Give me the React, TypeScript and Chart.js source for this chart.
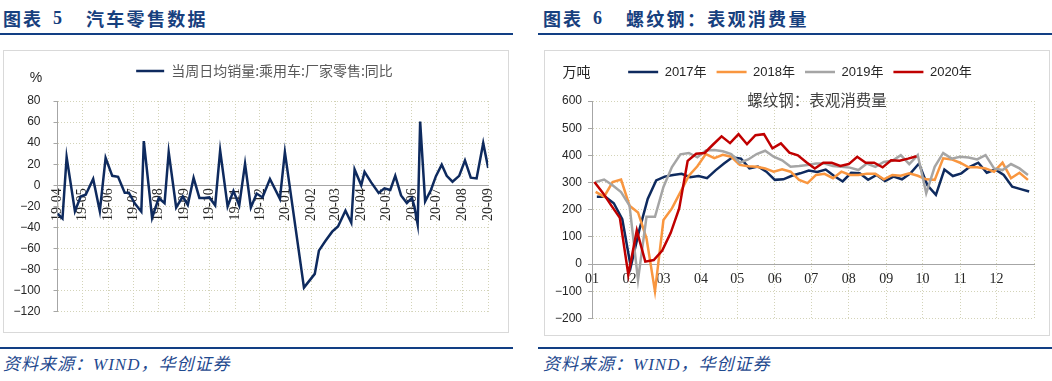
import React, { useEffect, useRef } from 'react';
import { Chart, registerables } from 'chart.js';

Chart.register(...registerables);

// ---------- Figure 5: car retail (weekly YoY, %) ----------
const carTickLabels = ['19-04', '19-05', '19-06', '19-07', '19-08', '19-09', '19-10', '19-11', '19-12', '20-01', '20-02', '20-03', '20-04', '20-05', '20-06', '20-07', '20-08', '20-09'];
const carSeriesName = '当周日均销量:乘用车:厂家零售:同比';
const carDates = [
  '2019-04-01', '2019-04-07', '2019-04-12', '2019-04-22', '2019-04-29',
  '2019-05-05', '2019-05-14', '2019-05-22', '2019-05-29',
  '2019-06-06', '2019-06-13', '2019-06-21', '2019-06-26',
  '2019-07-03', '2019-07-11', '2019-07-14', '2019-07-24',
  '2019-08-01', '2019-08-08', '2019-08-13', '2019-08-22', '2019-08-30',
  '2019-09-05', '2019-09-12', '2019-09-19', '2019-09-25',
  '2019-10-01', '2019-10-08', '2019-10-14', '2019-10-23', '2019-10-30',
  '2019-11-06', '2019-11-13', '2019-11-20', '2019-11-27',
  '2019-12-04', '2019-12-13', '2019-12-25', '2019-12-31',
  '2020-01-23',
  '2020-02-05', '2020-02-10', '2020-02-18', '2020-02-26',
  '2020-03-04', '2020-03-13', '2020-03-20', '2020-03-24', '2020-04-01',
  '2020-04-05', '2020-04-13', '2020-04-22', '2020-04-29',
  '2020-05-06', '2020-05-12', '2020-05-19', '2020-05-26', '2020-06-01',
  '2020-06-04', '2020-06-08', '2020-06-11', '2020-06-17', '2020-06-24', '2020-06-30',
  '2020-07-07', '2020-07-13', '2020-07-20', '2020-07-28',
  '2020-08-04', '2020-08-11', '2020-08-18', '2020-08-26', '2020-09-01',
];
const carYoY = [
  -27, -31.5, 26.8, -24.6, -10.6,
  -9, 6, -24.6, 26,
  9, 8, -7, -7,
  -17, -25, 42, -31,
  -12, -17, 31.5, -21, -10.6,
  -18.5, 7, -12, -12,
  -11.5, -19, 33, -20, -5.3,
  -19, 20.5, -21, -7.8,
  -11.5, 6, -12.8, 31.5,
  -97,
  -84, -62, -52.6, -44,
  -39, -24, -35.5, 15, 0,
  12.8, 2.8, -7.2, -2.8,
  -4.4, 9, -9.6, -16.8, -12,
  -20, -37, 60.5, -15.2, -4.4, 8.7,
  19.6, 9, 3.4, 9,
  23.6, 7.2, 6.5, 40, 16.5,
];

// ---------- Figure 6: rebar apparent consumption (10k t, weekly) ----------
const steelMonthLabels = ['01', '02', '03', '04', '05', '06', '07', '08', '09', '10', '11', '12'];
const steelYears = ['2017年', '2018年', '2019年', '2020年'];
const steelFirstWeek = ['2017-01-05', '2018-01-04', '2019-01-04', '2020-01-03'];
const steel2017 = [248, 248, 224, 165, -10, 124, 240, 308, 322, 328, 332, 320, 324, 316, 345, 370, 393, 388, 352, 359, 340, 310, 312, 325, 334, 344, 339, 348, 324, 304, 336, 334, 310, 328, 306, 322, 312, 334, 370, 290, 255, 348, 324, 334, 358, 373, 336, 348, 328, 285, 276, 267];
const steel2018 = [266, 248, 302, 311, 215, 190, 95, -100, 162, 205, 265, 325, 360, 405, 390, 402, 395, 365, 360, 358, 352, 340, 349, 340, 310, 298, 328, 332, 316, 340, 328, 328, 332, 332, 312, 328, 325, 334, 325, 312, 310, 389, 385, 373, 356, 356, 352, 340, 373, 316, 336, 310];
const steel2019 = [302, 311, 290, 265, 215, -58, 174, 174, 284, 357, 404, 409, 393, 418, 420, 415, 405, 373, 385, 405, 417, 395, 382, 358, 361, 365, 370, 370, 361, 358, 355, 346, 370, 358, 376, 380, 401, 368, 401, 261, 358, 409, 388, 395, 392, 385, 401, 352, 346, 368, 352, 328];
const steel2020 = [302, 262, 215, 170, -39, 124, 9, 15, 50, 115, 205, 380, 406, 409, 440, 470, 445, 478, 441, 474, 478, 426, 444, 410, 400, 375, 352, 373, 373, 361, 368, 395, 373, 373, 356, 382, 380, 388, 397];
const steelChartTitle = '螺纹钢：表观消费量';
const steelUnit = '万吨';

// ---------- helpers ----------
const DAY = 86400000;
const dayNum = (s: string) => {
  const [y, m, d] = s.split('-').map(Number);
  return Date.UTC(y, m - 1, d) / DAY;
};
const dayOfYear = (s: string) => dayNum(s) - Date.UTC(Number(s.slice(0, 4)), 0, 1) / DAY;
const fmtTick = (v: number) => (v < 0 ? '\u2212' + Math.abs(v) : String(v));

const GRID = '#D3D3B8';
const AXIS = '#A6A6A6';
const NAVY = '#0E2A5E';
const STEEL_COLORS = ['#0E2A5E', '#F9963F', '#A5A5A5', '#C00000'];
const SANS = '"Liberation Sans", Arial, sans-serif';
const SERIF = '"Liberation Serif", "Times New Roman", serif';
const CJK = '"Noto Sans CJK SC", sans-serif';

const extraText = {
  id: 'extraText',
  afterLayout(chart: any, _args: any, opts: any) {
    const shift = opts.legendShift || 0;
    if (chart.legend && shift) {
      chart.legend.left += shift;
      chart.legend.right += shift;
    }
  },
  afterDraw(chart: any, _args: any, opts: any) {
    const { ctx, chartArea } = chart;
    (opts.items || []).forEach((t: any) => {
      ctx.save();
      ctx.font = t.font;
      ctx.fillStyle = t.color;
      ctx.textAlign = 'center';
      ctx.textBaseline = 'middle';
      ctx.fillText(t.text, chartArea.left + t.dx, chartArea.top + t.dy);
      ctx.restore();
    });
  },
};

const legendLabels = (fontFamily: string, color: string, w: number, size: number) => ({
  usePointStyle: true,
  pointStyle: 'line',
  pointStyleWidth: w,
  padding: 10,
  color,
  font: { family: fontFamily, size },
  sort: (a: any, b: any) => a.datasetIndex - b.datasetIndex,
});

export default function App() {
  const leftRef = useRef<HTMLCanvasElement>(null);
  const rightRef = useRef<HTMLCanvasElement>(null);

  useEffect(() => {
    const carStart = dayNum('2019-04-01');
    const carTickDays = carTickLabels.map((l) => {
      const [yy, mm] = l.split('-').map(Number);
      return Date.UTC(2000 + yy, mm - 1, 1) / DAY - carStart;
    });
    const carPoints = carDates.map((d, i) => ({ x: dayNum(d) - carStart, y: carYoY[i] }));

    const left = new Chart(leftRef.current as HTMLCanvasElement, {
      type: 'line',
      data: {
        datasets: [
          {
            label: carSeriesName,
            data: carPoints,
            borderColor: NAVY,
            backgroundColor: NAVY,
            borderWidth: 2.5,
            pointRadius: 0,
            tension: 0,
          },
        ],
      },
      plugins: [extraText],
      options: {
        animation: false,
        responsive: false,
        maintainAspectRatio: false,
        layout: { padding: { left: 0, right: 18, top: 3, bottom: 16 } },
        plugins: {
          legend: { position: 'top', labels: legendLabels(CJK, '#595959', 28, 14) },
          subtitle: { display: true, text: ' ', weight: 500, font: { size: 1, lineHeight: 1 }, padding: { top: 0, bottom: 12 } },
          tooltip: { enabled: false },
          extraText: { legendShift: 17.5, items: [{ text: '%', dx: -21.5, dy: -23, font: `14px ${SANS}`, color: '#262626' }] },
        } as any,
        scales: {
          x: {
            type: 'linear',
            position: { y: 0 } as any,
            min: carTickDays[0],
            max: carTickDays[carTickDays.length - 1],
            afterBuildTicks: (scale: any) => {
              scale.ticks = carTickDays.map((v) => ({ value: v }));
            },
            ticks: {
              autoSkip: false,
              minRotation: 90,
              maxRotation: 90,
              padding: 3,
              color: '#262626',
              font: { family: SERIF, size: 14 },
              callback: (_v: any, i: number) => carTickLabels[i],
            },
            grid: { color: GRID, lineWidth: 1, drawTicks: false },
            border: { display: true, color: AXIS, width: 1, dash: [1, 2] },
          },
          y: {
            type: 'linear',
            min: -120,
            max: 80,
            afterFit: (scale: any) => {
              scale.width = 53.5;
            },
            ticks: {
              stepSize: 20,
              padding: 13,
              color: '#262626',
              font: { family: SANS, size: 12 },
              callback: (v: any) => fmtTick(Number(v)),
            },
            grid: { color: GRID, lineWidth: 1, drawTicks: true, tickLength: 4, tickColor: AXIS, tickBorderDash: [] },
            border: { display: true, color: AXIS, width: 1, dash: [1, 2] },
          },
        },
      } as any,
    });

    const monthStarts = steelMonthLabels.map((_m, i) => (Date.UTC(2017, i, 1) - Date.UTC(2017, 0, 1)) / DAY);
    const yearEnd = (Date.UTC(2018, 0, 1) - Date.UTC(2017, 0, 1)) / DAY;
    const steelValues = [steel2017, steel2018, steel2019, steel2020];
    const steelDatasets = steelYears.map((label, k) => {
      const first = dayOfYear(steelFirstWeek[k]);
      return {
        label,
        data: steelValues[k].map((v, i) => ({ x: first + 7 * i, y: v })),
        borderColor: STEEL_COLORS[k],
        backgroundColor: STEEL_COLORS[k],
        borderWidth: 2.5,
        pointRadius: 0,
        tension: 0,
        order: steelYears.length - k,
      };
    });

    const right = new Chart(rightRef.current as HTMLCanvasElement, {
      type: 'line',
      data: { datasets: steelDatasets },
      plugins: [extraText],
      options: {
        animation: false,
        responsive: false,
        maintainAspectRatio: false,
        layout: { padding: { left: 0, right: 15, top: 4.5, bottom: 16.5 } },
        plugins: {
          legend: { position: 'top', labels: legendLabels(`"Liberation Sans", ${CJK}`, '#262626', 30, 13) },
          subtitle: { display: true, text: ' ', weight: 500, font: { size: 1, lineHeight: 1 }, padding: { top: 0, bottom: 11.5 } },
          tooltip: { enabled: false },
          extraText: {
            legendShift: 10.5,
            items: [
              { text: steelUnit, dx: -15.5, dy: -29, font: `14px ${CJK}`, color: '#262626' },
              { text: steelChartTitle, dx: 225, dy: -0.5, font: `15.5px ${CJK}`, color: '#404040' },
            ],
          },
        } as any,
        scales: {
          x: {
            type: 'linear',
            position: { y: 0 } as any,
            min: 0,
            max: yearEnd,
            afterBuildTicks: (scale: any) => {
              scale.ticks = [...monthStarts, yearEnd].map((v) => ({ value: v }));
            },
            ticks: {
              autoSkip: false,
              maxRotation: 0,
              minRotation: 0,
              padding: 7,
              color: '#262626',
              font: { family: SERIF, size: 14 },
              callback: (_v: any, i: number) => steelMonthLabels[i] ?? '',
            },
            grid: { color: GRID, lineWidth: 1, drawTicks: false },
            border: { display: true, color: AXIS, width: 1, dash: [1, 2] },
          },
          y: {
            type: 'linear',
            min: -200,
            max: 600,
            afterFit: (scale: any) => {
              scale.width = 47;
            },
            ticks: {
              stepSize: 100,
              padding: 6,
              color: '#262626',
              font: { family: SANS, size: 12 },
              callback: (v: any) => fmtTick(Number(v)),
            },
            grid: { color: GRID, lineWidth: 1, drawTicks: true, tickLength: 4, tickColor: AXIS, tickBorderDash: [] },
            border: { display: true, color: AXIS, width: 1, dash: [1, 2] },
          },
        },
      } as any,
    });

    return () => {
      left.destroy();
      right.destroy();
    };
  }, []);

  const titleColor = '#17407E';
  const ruleColor = '#123F84';
  const footColor = '#1F4A8F';
  const titleBase: React.CSSProperties = {
    position: 'absolute',
    top: 8,
    fontSize: 18,
    lineHeight: '20px',
    fontWeight: 700,
    color: titleColor,
    whiteSpace: 'nowrap',
    fontFamily: CJK,
  };
  const footBase: React.CSSProperties = {
    position: 'absolute',
    top: 355,
    fontSize: 17,
    lineHeight: '20px',
    fontStyle: 'italic',
    letterSpacing: 1,
    color: footColor,
    whiteSpace: 'nowrap',
    fontFamily: `"Liberation Serif", ${CJK}`,
  };
  const rule = (left: number, top: number, width: number): React.CSSProperties => ({
    position: 'absolute',
    left,
    top,
    width,
    height: 2,
    background: ruleColor,
  });
  const box = (left: number, width: number, height: number): React.CSSProperties => ({
    position: 'absolute',
    left,
    top: 50,
    width,
    height,
    boxSizing: 'border-box',
    border: '1px solid #D9D9D9',
    background: '#fff',
  });

  return (
    <div style={{ position: 'absolute', left: 0, top: 0, width: 1052, height: 381, background: '#fff', overflow: 'hidden' }}>
      <span style={{ ...titleBase, left: 3, letterSpacing: 2 }}>图表</span>
      <span style={{ ...titleBase, left: 53, fontFamily: SERIF }}>5</span>
      <span style={{ ...titleBase, left: 86, letterSpacing: 2.3 }}>汽车零售数据</span>
      <div style={rule(0, 33, 513)} />

      <span style={{ ...titleBase, left: 543, letterSpacing: 2 }}>图表</span>
      <span style={{ ...titleBase, left: 593, fontFamily: SERIF }}>6</span>
      <span style={{ ...titleBase, left: 626, letterSpacing: 2.3 }}>螺纹钢：表观消费量</span>
      <div style={rule(538, 33, 514)} />

      <div style={box(3, 506, 283)}>
        <canvas ref={leftRef} width={504} height={281} style={{ display: 'block', width: 504, height: 281 }} />
      </div>
      <div style={box(544, 506, 286)}>
        <canvas ref={rightRef} width={504} height={284} style={{ display: 'block', width: 504, height: 284 }} />
      </div>

      <div style={rule(0, 347, 513)} />
      <div style={rule(538, 347, 514)} />
      <span style={{ ...footBase, left: 3 }}>资料来源：WIND，华创证券</span>
      <span style={{ ...footBase, left: 543 }}>资料来源：WIND，华创证券</span>
    </div>
  );
}
